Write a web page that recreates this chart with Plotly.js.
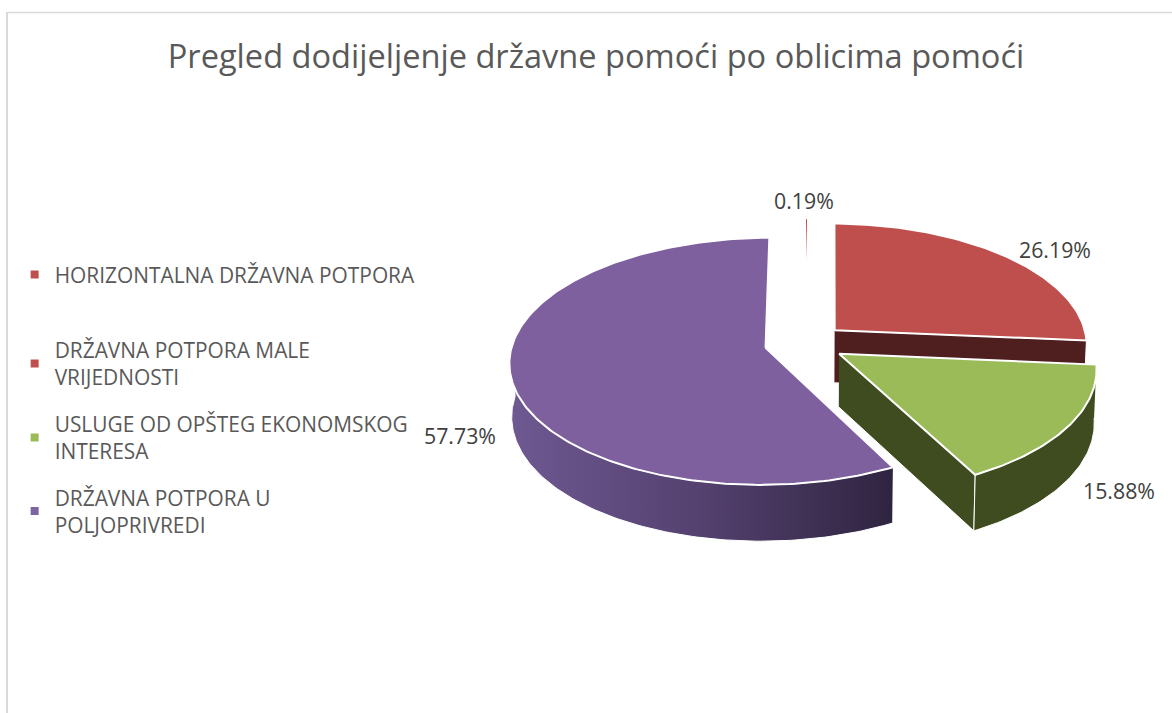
<!DOCTYPE html>
<html>
<head>
<meta charset="utf-8">
<script src="https://cdn.plot.ly/plotly-3.0.1.min.js"></script>
<style>html,body{margin:0;padding:0;background:#fff}#chart{width:1172px;height:713px}</style>
</head>
<body>
<div id="chart"></div>
<script>
// ---- data ----
const chartTitle = 'Pregled dodijeljenje državne pomoći po oblicima pomoći';
const categories = [
  'HORIZONTALNA DRŽAVNA POTPORA',
  'DRŽAVNA POTPORA MALE<br>VRIJEDNOSTI',
  'USLUGE OD OPŠTEG EKONOMSKOG<br>INTERESA',
  'DRŽAVNA POTPORA U<br>POLJOPRIVREDI'
];
const shares = [0.19, 26.19, 15.88, 57.73];

// ---- styles and layout settings ----
const topColors  = ['#C0504D', '#BE4F4C', '#9BBB59', '#7F609F'];
const wallColors = [null, '#4F1F1F', '#3F4C20', null];
const wallGradient = [[0, '#6E5992'], [0.5, '#54416F'], [1, '#2F2440']];
const legendColors = ['#C0504D', '#C0504D', '#9BBB59', '#8064A2'];
const legendTops = [0.6431, 0.5375, 0.4335, 0.3305];
const labelAnchors = [[804, 200], [1055, 249], [1119, 490], [460, 435]];
const font = 'Open Sans, sans-serif';

// ---- oblique projection of the exploded pie ----
const pivot = [805, 343], sx = 253, sy = 121, persp = 0.11, explode = 0.16, depth = 53;
const startDeg = 0;
const rad = d => d * Math.PI / 180;
function project(X, Z, low) {
  const w = 1 + persp * Z;
  const x = pivot[0] + sx * X / w * (low ? 0.992 : 1);
  const y = pivot[1] - sy * Z / w + (low ? depth / Math.sqrt(w) : 0);
  return [x, y];
}
let cum = startDeg;
const slices = shares.map(s => {
  const a0 = cum, a1 = cum + s * 3.6;
  cum = a1;
  const mid = rad((a0 + a1) / 2);
  return {a0, a1, ox: explode * Math.sin(mid), oz: explode * Math.cos(mid)};
});
function arc(sl, from, to, low) {
  const pts = [], n = Math.max(2, Math.ceil(Math.abs(to - from)));
  for (let i = 0; i <= n; i++) {
    const t = rad(from + (to - from) * i / n);
    pts.push(project(sl.ox + Math.sin(t), sl.oz + Math.cos(t), low));
  }
  return pts;
}
const apex = (sl, low) => project(sl.ox, sl.oz, low);
function poly(pts, opts) {
  return Object.assign({
    type: 'scatter', mode: 'lines', fill: 'toself', hoverinfo: 'skip', showlegend: false,
    x: pts.map(p => p[0]), y: pts.map(p => p[1]), line: {color: '#fff', width: 1}
  }, opts);
}
const topFace = (sl, color, w) =>
  poly([apex(sl, false), ...arc(sl, sl.a0, sl.a1, false), apex(sl, false)],
       {fillcolor: color, line: {color: '#fff', width: w}});

const [thin, red, green, purple] = slices;
const traces = [
  // purple: outer wall, top
  poly([...arc(purple, purple.a0, 272, false), ...arc(purple, 272, purple.a0, true)],
       {fillgradient: {type: 'horizontal', colorscale: wallGradient}, fillcolor: '#54416F'}),
  topFace(purple, topColors[3], 2),
  // thin slice
  topFace(thin, topColors[0], 1.6),
  // red: cut face, top
  poly([apex(red, false), arc(red, red.a1, red.a1, false)[0],
        arc(red, red.a1, red.a1, true)[0], apex(red, true)],
       {fillcolor: wallColors[1]}),
  topFace(red, topColors[1], 2),
  // green: cut face, outer wall, top
  poly([apex(green, false), arc(green, green.a1, green.a1, false)[0],
        arc(green, green.a1, green.a1, true)[0], apex(green, true)],
       {fillcolor: wallColors[2]}),
  poly([...arc(green, green.a0, green.a1, false), ...arc(green, green.a1, green.a0, true)],
       {fillcolor: wallColors[2]}),
  topFace(green, topColors[2], 2)
];

// legend-only entries
categories.forEach((c, i) => traces.push({
  type: 'scatter', mode: 'markers', x: [null], y: [null], name: c, hoverinfo: 'skip',
  marker: {symbol: 'square', size: 8, color: legendColors[i]},
  showlegend: true, legend: i === 0 ? 'legend' : 'legend' + (i + 1)
}));

const legendCfg = top => ({
  x: 0.0125, xanchor: 'left', y: top, yanchor: 'top', bgcolor: 'rgba(0,0,0,0)',
  font: {family: font, size: 20.9, color: '#595959'}
});

const layout = {
  width: 1172, height: 713, margin: {l: 0, r: 0, t: 0, b: 0},
  paper_bgcolor: '#fff', plot_bgcolor: '#fff',
  title: {text: chartTitle, x: 596 / 1172, xanchor: 'center', y: 1 - 57 / 713, yanchor: 'middle',
          font: {family: font, size: 32.6, color: '#595959'}},
  xaxis: {range: [0, 1172], visible: false, fixedrange: true},
  yaxis: {range: [713, 0], visible: false, fixedrange: true},
  legend: legendCfg(legendTops[0]),
  legend2: legendCfg(legendTops[1]),
  legend3: legendCfg(legendTops[2]),
  legend4: legendCfg(legendTops[3]),
  shapes: [
    {type: 'line', xref: 'x', yref: 'y', x0: 7, x1: 7, y0: 12, y1: 713, line: {color: '#D9D9D9', width: 2}},
    {type: 'line', xref: 'x', yref: 'y', x0: 7, x1: 1172, y0: 12.5, y1: 12.5, line: {color: '#D9D9D9', width: 1.5}}
  ],
  annotations: shares.map((s, i) => ({
    xref: 'x', yref: 'y', x: labelAnchors[i][0], y: labelAnchors[i][1], showarrow: false,
    text: s.toFixed(2) + '%', font: {family: font, size: 21.3, color: '#404040'},
    xanchor: 'center', yanchor: 'middle'
  }))
};
Plotly.newPlot('chart', traces, layout, {displayModeBar: false, responsive: false});
</script>
</body>
</html>
